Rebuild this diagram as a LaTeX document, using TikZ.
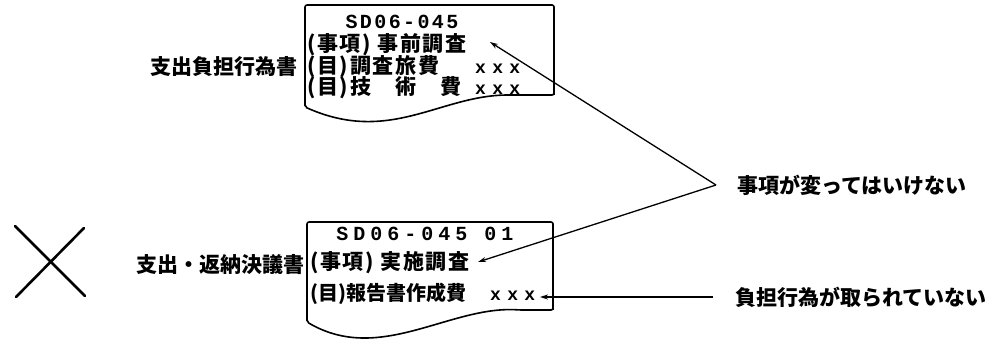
\documentclass[tikz,border=0pt]{standalone}
\usepackage{fontspec}
\newfontfamily\cjk{Noto Sans CJK JP}
\newfontfamily\sdfont{Liberation Mono}
\usetikzlibrary{arrows.meta}
\newcommand\xxxmark{{\sdfont\bfseries\fontsize{18}{18}\selectfont\addfontfeature{LetterSpace=35}xxx}}
\begin{document}
\begin{tikzpicture}[x=1pt,y=-1pt,
  docline/.style={line width=1.6pt, rounded corners=2pt, line join=round},
  docedge/.style={line width=2.6pt},
  lbl/.style={inner sep=0pt, font=\cjk\bfseries\fontsize{21}{21}\selectfont},
  row/.style={inner sep=0pt, anchor=west, font=\cjk\bfseries\fontsize{21}{21}\selectfont\addfontfeature{LetterSpace=8}},
  code/.style={inner sep=0pt, font=\sdfont\bfseries\fontsize{20}{20}\selectfont\addfontfeature{LetterSpace=12}},
  conn/.style={line width=1.3pt, -{Stealth[length=8pt,width=5pt]}},
  cross/.style={line width=2.6pt, line cap=round}]
\useasboundingbox (0,0) rectangle (1008,343);

% top document
\draw[docline] (305,107) -- (305,5) -- (554,5) -- (554,95) -- (510,95)
  .. controls (440,95) and (390,145) .. (305,107) -- cycle;
\draw[docedge] (305,8) -- (305,106);
\draw[docedge] (554,8) -- (554,95);
\node[code] (t1) at (402,22) {SD06-045};
\node[row] (t2) at (307,45) {(事項) 事前調査};
\node[row] (t3) at (307,67) {\makebox[213pt][s]{(目)調査旅費\hfill\xxxmark}};
\node[row] (t4) at (307,88) {\makebox[213pt][s]{(目)技　術　費\hfill\xxxmark}};
\node[lbl, anchor=east] (L1) at (298,67) {支出負担行為書};

% bottom document
\draw[docline] (307,322) -- (307,222) -- (553,222) -- (553,310) -- (520,310)
  .. controls (450,305) and (380,365) .. (307,322) -- cycle;
\draw[docedge] (307,225) -- (307,321);
\draw[docedge] (553,225) -- (553,310);
\node[code, font=\sdfont\bfseries\fontsize{20}{20}\selectfont\addfontfeature{LetterSpace=25}] (b1) at (425,234) {SD06-045  01};
\node[row] (b2) at (310,263) {(事項) 実施調査};
\node[row, font=\cjk\bfseries\fontsize{20}{20}\selectfont] (b3) at (310,294) {\makebox[225pt][s]{(目)報告書作成費\hfill\xxxmark}};
\node[lbl, anchor=east] (L2) at (305,265) {支出・返納決議書};

% cross
\draw[cross] (15,226) -- (85,296);
\draw[cross] (84,228) -- (16,297);

% right labels and connectors
\node[lbl, anchor=west] (R1) at (737,185) {事項が変ってはいけない};
\node[lbl, anchor=west] (R2) at (735,297) {負担行為が取られていない};
\coordinate (v) at (716,185);
\coordinate (a1) at (490,42);
\coordinate (a2) at (478,262);
\coordinate (a3) at (540,297);
\draw[conn] (v) -- (a1);
\draw[conn] (v) -- (a2);
\draw[conn, shorten <=22pt] (R2.west) -- (a3);
\end{tikzpicture}
\end{document}
